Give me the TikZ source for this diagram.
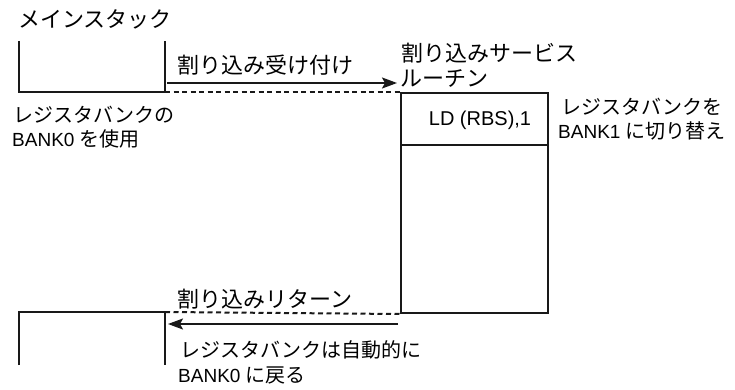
\documentclass[tikz,border=0pt]{standalone}
\usepackage{fontspec}
\setmainfont{Liberation Sans}
\newfontfamily\jp{Noto Sans CJK JP}
\usetikzlibrary{arrows.meta}
\tikzset{
  ln/.style={line width=2pt, black!90},
  dsh/.style={line width=2pt, black!90, dash pattern=on 5pt off 3.5pt},
  arr/.style={line width=2pt, black!90, -{Stealth[length=15pt,width=11pt,inset=3pt]}},
  head/.style={inner sep=0pt, anchor=west, font=\jp\fontsize{22}{26}\selectfont},
  note/.style={inner sep=0pt, anchor=west, font=\fontsize{19}{23}\selectfont},
  cell/.style={inner sep=0pt, anchor=north west, minimum width=147pt}
}
\newcommand\jpn[1]{{\jp\fontsize{20}{24}\selectfont #1}}
\begin{document}
\begin{tikzpicture}[x=1pt,y=-1pt]
\useasboundingbox (0,0) rectangle (735,390);
% main stack (top)
\coordinate (a1) at (18.5,41);
\coordinate (a2) at (18.5,92);
\coordinate (a3) at (165,92);
\coordinate (a4) at (165,41);
\draw[ln] (a1) -- (a2) -- (a3) -- (a4);
% interrupt service routine
\node[cell, draw, ln, minimum height=220pt] (isr) at (400,92) {};
\node[cell, minimum height=53pt] (ld) at (isr.north west) {};
\draw[ln] (ld.south west) -- (ld.south east);
\node[inner sep=0pt, font=\fontsize{20}{24}\selectfont] (ldtext) at (480,120) {LD (RBS),1};
% dashed links
\draw[dsh] (a3) -- (isr.north west);
% main stack (bottom)
\coordinate (b1) at (18.5,365);
\coordinate (b2) at (18.5,312);
\coordinate (b3) at (165,312);
\coordinate (b4) at (165,365);
\draw[ln] (b1) -- (b2) -- (b3) -- (b4);
\draw[dsh] (b3) -- (isr.south west);
% arrows
\coordinate (t1) at (167,83);
\coordinate (t2) at (397,83);
\draw[arr] (t1) -- (t2);
\coordinate (r1) at (398,324);
\coordinate (r2) at (168,324);
\draw[arr] (r1) -- (r2);
% texts
\node[head] (mst) at (18,19) {メインスタック};
\node[head] (acc) at (177,65) {割り込み受け付け};
\node[head] (isr1) at (401,53) {割り込みサービス};
\node[head] (isr2) at (400,79) {ルーチン};
\node[head] (ret) at (177,299) {割り込みリターン};
\node[note] (n1a) at (13,115) {\jpn{レジスタバンクの}};
\node[note] (n1b) at (12,139) {BANK0 \jpn{を使用}};
\node[note] (n2a) at (561,107) {\jpn{レジスタバンクを}};
\node[note] (n2b) at (558,131) {BANK1 \jpn{に切り替え}};
\node[note] (n3a) at (180,350) {\jpn{レジスタバンクは自動的に}};
\node[note] (n3b) at (178,375) {BANK0 \jpn{に戻る}};
\end{tikzpicture}
\end{document}
